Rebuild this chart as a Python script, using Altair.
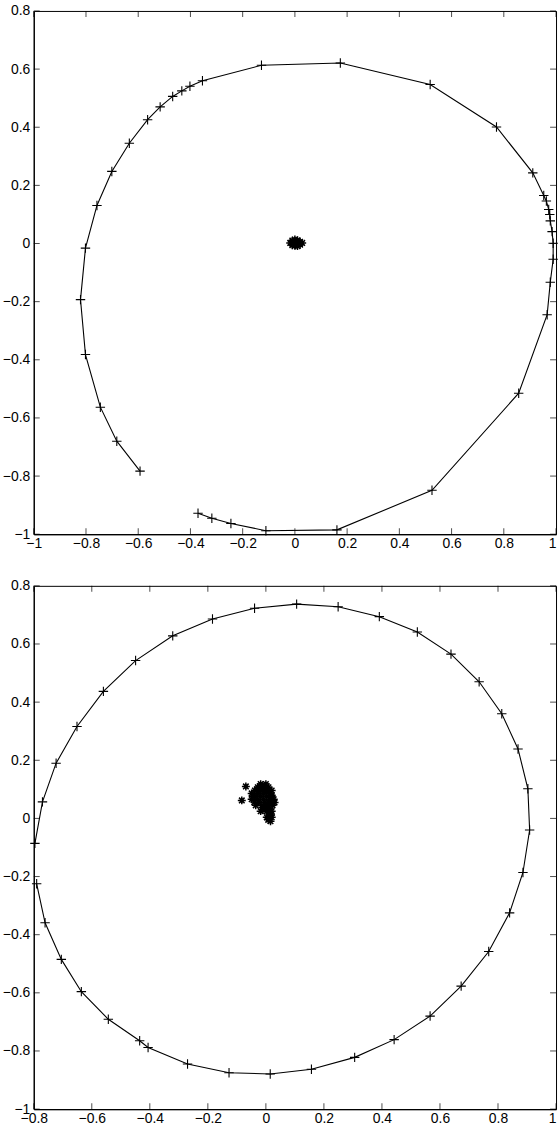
import altair as alt
import pandas as pd

# ---------------- top panel data ----------------
top_x = [-0.593, -0.682, -0.745, -0.802, -0.821, -0.802, -0.758, -0.701, -0.634, -0.564,
         -0.516, -0.468, -0.433, -0.402, -0.354, -0.128, 0.174, 0.518, 0.772, 0.911,
         0.953, 0.963, 0.972, 0.976, 0.978, 0.985, 0.989, 0.989, 0.978, 0.966,
         0.857, 0.525, 0.161, -0.111, -0.245, -0.318, -0.371]
top_y = [-0.783, -0.680, -0.563, -0.382, -0.193, -0.016, 0.131, 0.248, 0.345, 0.426,
         0.470, 0.506, 0.525, 0.541, 0.560, 0.613, 0.621, 0.547, 0.401, 0.243,
         0.165, 0.146, 0.117, 0.100, 0.078, 0.041, 0.001, -0.054, -0.133, -0.245,
         -0.515, -0.849, -0.985, -0.988, -0.963, -0.945, -0.928]
top_cx = [-0.018, -0.010, -0.010, 0.000, 0.000, 0.000, 0.010, 0.010, 0.010, 0.020,
          0.020, 0.028, -0.005, 0.005, 0.015]
top_cy = [0.002, 0.010, -0.006, 0.014, 0.004, -0.008, 0.011, 0.000, -0.009, 0.006,
          -0.004, 0.002, 0.000, 0.007, 0.003]

# ---------------- bottom panel data ----------------
bot_x = [-0.790, -0.761, -0.705, -0.636, -0.543, -0.435, -0.406, -0.270, -0.127, 0.015,
         0.157, 0.306, 0.442, 0.566, 0.673, 0.768, 0.840, 0.886, 0.909, 0.903,
         0.869, 0.813, 0.735, 0.638, 0.522, 0.391, 0.249, 0.106, -0.039, -0.184,
         -0.321, -0.449, -0.560, -0.651, -0.723, -0.770, -0.796]
bot_y = [-0.225, -0.359, -0.485, -0.596, -0.691, -0.765, -0.788, -0.845, -0.875, -0.879,
         -0.863, -0.822, -0.761, -0.680, -0.577, -0.458, -0.325, -0.186, -0.040, 0.102,
         0.239, 0.360, 0.470, 0.565, 0.641, 0.694, 0.728, 0.737, 0.723, 0.686,
         0.628, 0.543, 0.437, 0.316, 0.190, 0.057, -0.086]
bot_cx = [-0.028, -0.008, 0.009,
          -0.049, -0.028, -0.008, 0.013,
          -0.049, -0.028, -0.008, 0.013, 0.027,
          -0.035, -0.014, 0.006, 0.023,
          -0.018, 0.003, 0.020,
          0.003, 0.020,
          -0.069, -0.083,
          -0.018, 0.000, -0.038, -0.018, 0.003, 0.020, -0.038, -0.018, 0.003, 0.020,
          -0.025, -0.004, 0.014, -0.007, 0.012, 0.012,
          -0.045, -0.040, -0.030, -0.020, -0.010, 0.000, 0.010, 0.020, 0.030,
          -0.010, 0.000, 0.010, 0.018, 0.008, 0.016]
bot_cy = [0.107, 0.107, 0.107,
          0.086, 0.086, 0.086, 0.086,
          0.066, 0.066, 0.066, 0.066, 0.066,
          0.045, 0.045, 0.045, 0.045,
          0.025, 0.025, 0.025,
          0.004, 0.004,
          0.110, 0.062,
          0.118, 0.118, 0.096, 0.096, 0.096, 0.096, 0.076, 0.076, 0.076, 0.076,
          0.055, 0.055, 0.055, 0.035, 0.035, 0.014,
          0.076, 0.056, 0.100, 0.110, 0.100, 0.100, 0.095, 0.080, 0.055,
          0.030, 0.040, 0.020, 0.012, -0.005, -0.010]

top_xticks = [-1, -0.8, -0.6, -0.4, -0.2, 0, 0.2, 0.4, 0.6, 0.8, 1]
bot_xticks = [-0.8, -0.6, -0.4, -0.2, 0, 0.2, 0.4, 0.6, 0.8, 1]
yticks = [-1, -0.8, -0.6, -0.4, -0.2, 0, 0.2, 0.4, 0.6, 0.8]

PLUS = "M-1,0L1,0M0,-1L0,1"
STAR = "M0,-1L0,1M-1,0L1,0M-0.7,-0.7L0.7,0.7M-0.7,0.7L0.7,-0.7"


def panel(px, py, cx, cy, xt, yt, xdom, ydom):
    curve = pd.DataFrame({"x": px, "y": py, "i": list(range(len(px)))})
    cluster = pd.DataFrame({"x": cx, "y": cy})
    xs = alt.Scale(domain=xdom, nice=False, zero=False)
    ys = alt.Scale(domain=ydom, nice=False, zero=False)
    xax = alt.Axis(values=xt, format="~g", ticks=False, grid=False, labelFlush=False,
                   labelOverlap=False, labelPadding=2,
                   labelAlign={"condition": {"test": "datum.value == 1", "value": "right"},
                               "value": "center"})
    yax = alt.Axis(values=yt, format="~g", ticks=False, grid=False, labelFlush=False,
                   labelOverlap=False, labelPadding=4)
    X = alt.X("x:Q", scale=xs, axis=xax, title=None)
    Y = alt.Y("y:Q", scale=ys, axis=yax, title=None)

    line = alt.Chart(curve).mark_line(color="black", strokeWidth=1.1).encode(
        x=X, y=Y, order="i:Q")
    pts = alt.Chart(curve).mark_point(shape=PLUS, size=90, color="black", filled=False,
                                      strokeWidth=1.1, opacity=1).encode(x=X, y=Y)
    cl = alt.Chart(cluster).mark_point(shape=STAR, size=64, color="black", filled=False,
                                       strokeWidth=1.5, opacity=1).encode(x=X, y=Y)

    def ticks(df, orient, xo=0, yo=0):
        return alt.Chart(df).mark_tick(orient=orient, size=6, thickness=1, color="black",
                                       xOffset=xo, yOffset=yo).encode(x=X, y=Y)

    tb = ticks(pd.DataFrame({"x": xt, "y": [ydom[0]] * len(xt)}), "vertical", yo=-3)
    tt = ticks(pd.DataFrame({"x": xt, "y": [ydom[1]] * len(xt)}), "vertical", yo=3)
    tl = ticks(pd.DataFrame({"x": [xdom[0]] * len(yt), "y": yt}), "horizontal", xo=3)
    tr = ticks(pd.DataFrame({"x": [xdom[1]] * len(yt), "y": yt}), "horizontal", xo=-3)

    return alt.layer(tb, tt, tl, tr, line, pts, cl).properties(width=526, height=527)


top = panel(top_x, top_y, top_cx, top_cy, top_xticks, yticks, [-1, 1], [-1, 0.8])
bot = panel(bot_x, bot_y, bot_cx, bot_cy, bot_xticks, yticks, [-0.8, 1], [-1, 0.8])

chart = alt.vconcat(top, bot, spacing=27).properties(
    padding={"left": 1, "top": -1, "right": -1, "bottom": -2}
).configure_view(
    stroke="black", strokeWidth=1
).configure_axis(
    domainColor="black", domainWidth=1.2, labelColor="black",
    labelFont="Liberation Sans Narrow, Liberation Sans", labelFontSize=14
)

chart.save("out.html", embed_options={"renderer": "svg", "actions": False})
